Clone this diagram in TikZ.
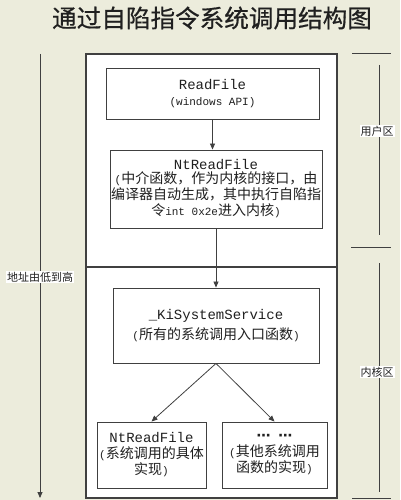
\documentclass[tikz,border=0pt]{standalone}
\usepackage{fontspec}
\setmainfont{Liberation Mono}
\newfontfamily\cjk{Noto Sans CJK SC}
\newfontfamily\cjkt[FakeBold=0.6]{Noto Sans CJK SC}
\newfontfamily\dv{DejaVu Sans}
\usetikzlibrary{arrows.meta}
\definecolor{bg}{HTML}{ECECDC}
\definecolor{ln}{HTML}{404040}
\definecolor{tx}{HTML}{202020}
\newcommand\zh[1]{{\cjk\fontsize{14}{16}\selectfont #1}}
\newcommand\ttl[1]{{\fontsize{14}{16}\selectfont #1}}
\tikzset{
  box/.style={draw=ln, line width=0.9pt, fill=white, align=center, inner sep=0pt,
    text=tx, font=\fontsize{11}{16}\selectfont},
  arr/.style={draw=ln, line width=0.8pt, -{Triangle[length=6pt,width=5pt]}},
  side/.style={fill=white, inner sep=1pt, text=tx, font=\cjk\fontsize{11}{13}\selectfont},
  rule/.style={draw=ln, line width=1pt}
}
\begin{document}
\begin{tikzpicture}[x=1pt,y=-1pt]
\fill[bg] (0,0) rectangle (400,500);
\useasboundingbox (0,0) rectangle (400,500);
\node[text=tx, font=\cjkt\fontsize{24.6}{28}\selectfont] (title) at (212,18) {通过自陷指令系统调用结构图};
% outer panel
\draw[draw=ln, line width=1.2pt, fill=white] (86,54) rectangle (337,498);
\coordinate (divL) at (86,267);
\coordinate (divR) at (337,267);
\draw[draw=ln, line width=1.2pt] (divL) -- (divR);
% boxes
\node[box, minimum width=213pt, minimum height=51pt] (rf) at (212.5,93.5)
  {\ttl{ReadFile}\\(windows API)};
\node[box, minimum width=212pt, minimum height=78pt] (nt) at (216,189)
  {\ttl{NtReadFile}\\[-2pt](\zh{中介函数，作为内核的接口，由}\\\zh{编译器自动生成，其中执行自陷指}\\\zh{令}int 0x2e\zh{进入内核})};
\node[box, minimum width=206pt, minimum height=75pt] (ks) at (216,325.5)
  {\ttl{\_KiSystemService}\\[4pt](\zh{所有的系统调用入口函数})};
\node[box, minimum width=109pt, minimum height=66pt] (bl) at (151.5,455)
  {\ttl{NtReadFile}\\(\zh{系统调用的具体}\\\zh{实现})};
\node[box, minimum width=105pt, minimum height=66pt] (br) at (274.5,455)
  {{\dv\bfseries\fontsize{14}{16}\selectfont ⋯\hspace{8pt}⋯}\\(\zh{其他系统调用}\\\zh{函数的实现})};
% connectors
\draw[arr] (rf.south) -- (rf.south |- nt.north);
\draw[arr] (nt.south) -- (ks.north);
\draw[arr] (ks.south) -- (bl.north);
\draw[arr] (ks.south) -- (br.north);
% left address arrow
\coordinate (aTop) at (40,54);
\coordinate (aBot) at (40,498);
\draw[arr] (aTop) -- (aBot);
\node[side] (addr) at (40,277) {地址由低到高};
% right region markers
\coordinate (r1a) at (352,54); \coordinate (r1b) at (391,54);
\coordinate (r2a) at (351,247); \coordinate (r2b) at (391,247);
\coordinate (r3a) at (352,498); \coordinate (r3b) at (391,498);
\draw[rule] (r1a) -- (r1b);
\draw[rule] (r2a) -- (r2b);
\draw[rule] (r3a) -- (r3b);
\coordinate (v1a) at (379,65); \coordinate (v1b) at (379,235);
\coordinate (v2a) at (379,263); \coordinate (v2b) at (379,492);
\draw[rule] (v1a) -- (v1b);
\draw[rule] (v2a) -- (v2b);
\node[side] (user) at (377,131) {用户区};
\node[side] (kern) at (377,372) {内核区};
\end{tikzpicture}
\end{document}
